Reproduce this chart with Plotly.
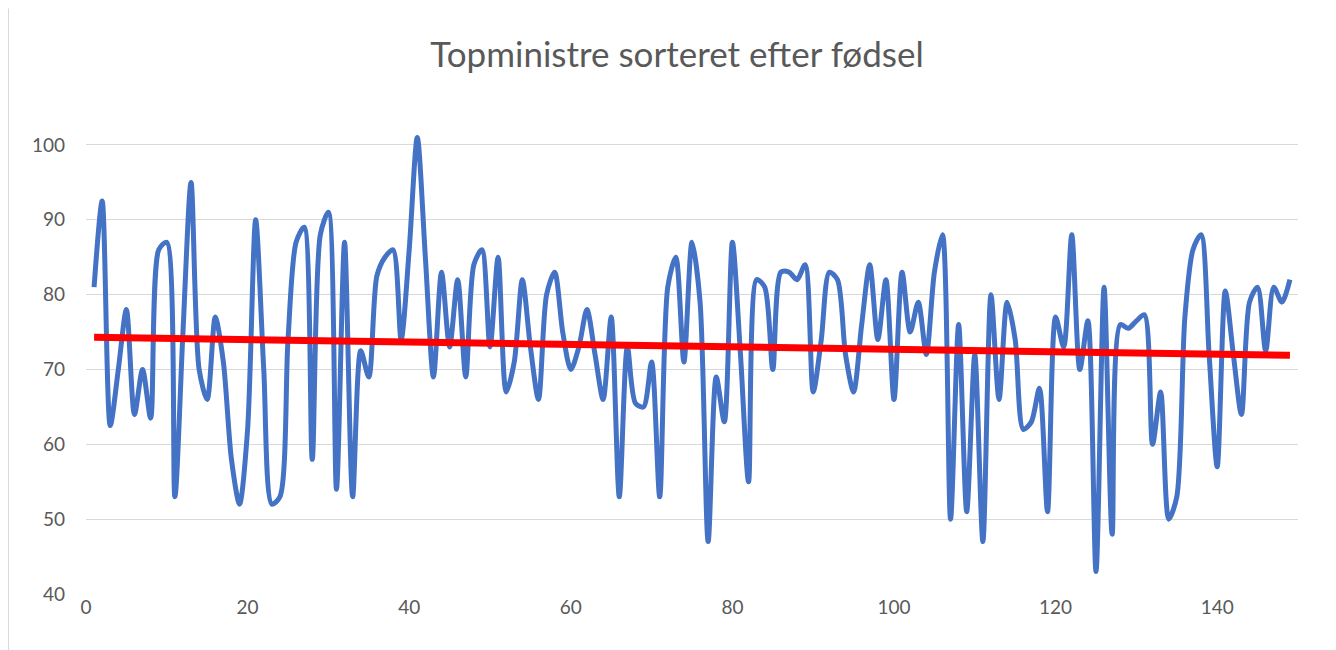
import plotly.graph_objects as go

# --- data ---
minister_index = list(range(1, 150))
values = [
    81, 92.5, 62.5, 70, 78, 64, 70, 63.5, 86, 87,
    53, 75, 95, 70, 66, 77, 71, 58, 52, 62,
    90, 70, 52, 53, 74, 87, 89, 58, 88, 91,
    54, 87, 53, 72.5, 69, 82.5, 85, 86, 74, 86,
    101, 85, 69, 83, 73, 82, 69, 84, 86, 73,
    85, 67, 71, 82, 73, 66, 80, 83, 75, 70,
    73, 78, 72, 66, 77, 53, 73, 65.5, 65, 71,
    53, 81, 85, 71, 87, 79, 47, 69, 63, 87,
    72, 55, 82, 81, 70, 83, 83, 82, 84, 67,
    74, 83, 82, 72, 67, 76, 84, 74, 82, 66,
    83, 75, 79, 72, 83, 88, 50, 76, 51, 72,
    47, 80, 66, 79, 74, 62, 63, 67.5, 51, 77,
    73, 88, 70, 76.5, 43, 81, 48, 76, 75.5, 76.5,
    77.3, 60, 67, 50, 53, 77, 86, 88, 72, 57,
    80.5, 72, 64, 79, 81, 72.5, 81, 79, 82,
]
trend_x = [1, 149]
trend_y = [74.3, 71.9]

title_text = "Topministre sorteret efter fødsel"
x_ticks = [0, 20, 40, 60, 80, 100, 120, 140]
y_ticks = [40, 50, 60, 70, 80, 90, 100]

fig = go.Figure()
fig.add_trace(go.Scatter(
    x=minister_index, y=values, mode="lines",
    line=dict(color="#4472C4", width=5, shape="spline", smoothing=0.8),
    showlegend=False, hoverinfo="x+y",
))
fig.add_trace(go.Scatter(
    x=trend_x, y=trend_y, mode="lines",
    line=dict(color="#FF0000", width=7),
    showlegend=False, hoverinfo="skip",
))

# the page body adds an 8px offset, so figure coords = page coords - 8
OFF = 8
W, H = 1336, 650
ml = 86 - OFF
mt = 130 - OFF
mr = W - (1298 - OFF)
mb = H - (594 - OFF)
pw, ph = W - ml - mr, H - mt - mb

def px_x(p):
    return (p - OFF - ml) / pw

def px_y(p):
    return (H - mb - (p - OFF)) / ph

# chart-area border (left and right edges visible)
border = dict(color="#d9d9d9", width=1)
fig.add_shape(type="line", xref="paper", yref="paper",
              x0=px_x(8.5), x1=px_x(8.5), y0=px_y(660), y1=px_y(8.5), line=border)
fig.add_shape(type="line", xref="paper", yref="paper",
              x0=px_x(1329.5), x1=px_x(1329.5), y0=px_y(660), y1=px_y(8.5), line=border)

font_family = "Lato, 'Liberation Sans', sans-serif"
fig.update_layout(
    width=W, height=H,
    margin=dict(l=ml, r=mr, t=mt, b=mb),
    paper_bgcolor="white", plot_bgcolor="white",
    title=dict(text=title_text, x=(677 - OFF) / W, xref="container", xanchor="center",
               y=1 - (55 - OFF) / H, yref="container", yanchor="middle",
               font=dict(family=font_family, size=35, color="#595959")),
    xaxis=dict(range=[0, 150], tickvals=x_ticks, showgrid=False,
               zeroline=False, showline=False, ticks="",
               tickfont=dict(family=font_family, size=19, color="#595959")),
    yaxis=dict(range=[40, 102], tickvals=y_ticks, showgrid=True,
               gridcolor="#d9d9d9", gridwidth=1, zeroline=False,
               showline=False, ticks="", ticklabelstandoff=20,
               tickfont=dict(family=font_family, size=19, color="#595959")),
)

fig.write_html("out.html")
